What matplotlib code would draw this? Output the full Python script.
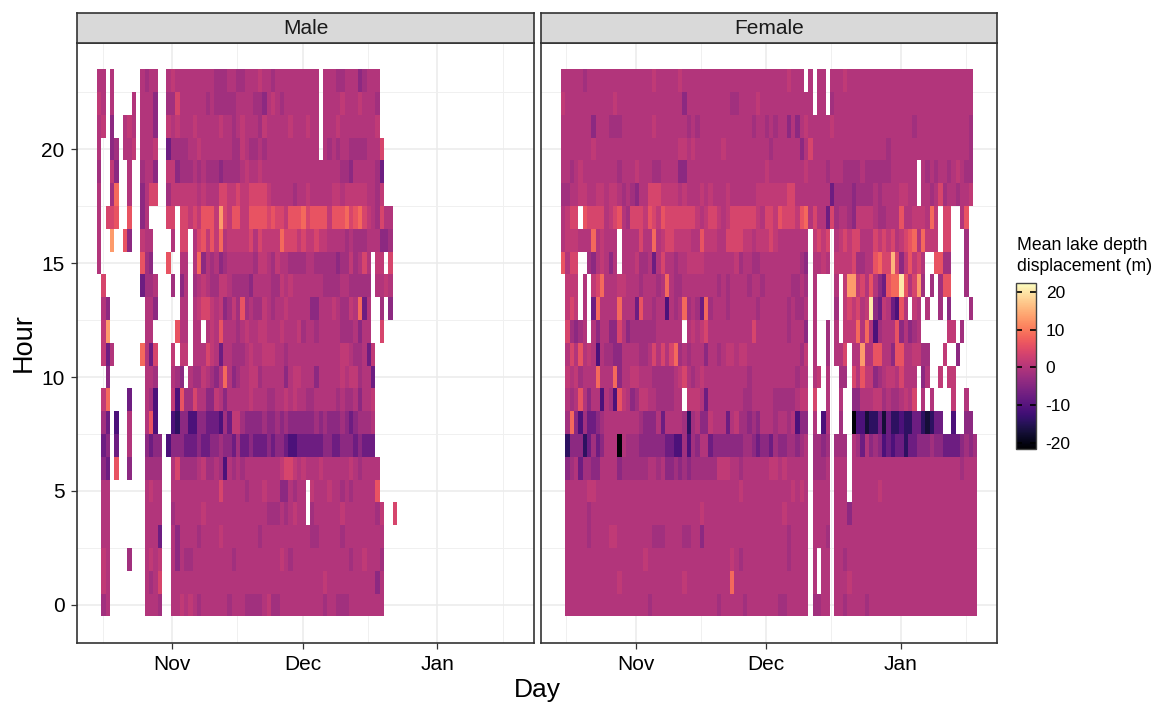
"""Heat map of mean lake depth displacement by hour and day, male and female panels."""

from __future__ import annotations

import datetime as dt

import matplotlib

matplotlib.use("Agg")
import matplotlib.dates as mdates
import matplotlib.pyplot as plt
import numpy as np
from matplotlib.cm import ScalarMappable
from matplotlib.colors import Normalize

plt.rcParams["font.family"] = ["Liberation Sans", "DejaVu Sans"]
plt.rcParams["axes.unicode_minus"] = False

FIG_W, FIG_H = 1163, 704
first_day = dt.date(2013, 10, 15)
month_ticks = [dt.date(2013, 11, 1), dt.date(2013, 12, 1), dt.date(2014, 1, 1)]
month_labels = ["Nov", "Dec", "Jan"]
minor_ticks = [dt.date(2013, 10, 16), dt.date(2013, 11, 16), dt.date(2013, 12, 16), dt.date(2014, 1, 16)]
hour_ticks = [0, 5, 10, 15, 20]
bar_ticks = [-20, -10, 0, 10, 20]
panel_names = ["Male", "Female"]

# displacement (m) for each letter, "." is no data
levels = {
    "a": -21, "b": -17, "c": -14, "d": -11, "e": -7.5, "f": -4, "g": -1.7, "h": -0.1,
    "i": 1.5, "j": 3.8, "k": 6, "l": 8.5, "m": 13, "n": 15.5, "o": 20,
}

# one string per hour, 23 down to 0, one letter per day from first_day
male_rows = [
    "hh.h...... hghh..hihh hhhhhhhggg hhgghhhihh ghhhhhhhhh h.hhhgghhh fghhh....",
    "ih.h....h. hhhf..ggjh hhhhhghggg gghhhhggfh ihghhhhhhh h.hhhhihhh ihhhg....",
    "hi.f..hih. hhhf..ihih hhihhhhhih hghihhhgih hhhhihhhih h.hhhihhhh hhhhi....",
    "h..fg.hhi. hhhi..eggg ghhihhhhhh hggihgghgh hhhhhhhhhh h.hghghhgg gghhhj...",
    "g..if..h.. ghhf..iifg gghghgggfg ggghihhihh hhhhhhhhhh hhhhhhggfh hhhhge...",
    "h..gl..h.. fhjj..giii iiihihhhjj iijiijjjji hhhhhghhih hhhhiihiii iihhgi...",
    "h.jjk..k.. fh....jj.j jijikkkimj ikkiikkkkj kjjikkkljk kkkikkkljk ljihgjhh.",
    "h..m..kf.. ihh....h.j j.hjkikilh iiiiijhjii iiljjjijii jiihhhhghg gghhhffg.",
    "h......... kgf...k..h h.hlfhghfg hhhhhhgiih gihhgggghh gggggfggig hjh.ii.j.",
    ".j........ eggh...g.f h.ghihggii hggggfhhhh ggihihhhhh hhgggghhgg ggg.hhih.",
    ".hf....... .hhf.....h h.hijjihif gigkghggih ghhihhhhhf fhhhihggih leh..g.f.",
    ".im....... .hh.....kh h.hh.hihkh hhghihhiih hhihhhighh ghhhhhgggh fhh..j...",
    ".ieh...... lhej...i.i i.hhhjiheh hggghihhii ihhghhhhhh hhhhhhiihg ghei.....",
    "..f....... .hhg...hgf .hggihgfhl hfghhiighh hhhfhiihhh fhhhhhihii ghhe.....",
    ".il....e.. .hgd...idk ggjhhffihf hhhhhihhhg ghhihihhgg hhhhhghggh fhhi.....",
    ".ge.d..h.. .hkd...dcf fddffeeedg eiigffffgf fgfgffffff gfgfffgfef gggh.....",
    ".ef.e..h.. .feff.dfff eeefeeffgf fegeefeeef effeddeeee eeffeefffe feee.....",
    ".fe.k..f.. .gggg..hjg ggghigghgd hghghhhhhh hhijjihihh hihhhhhhih ghhhh....",
    ".hh....... .hihh..hhh hhhhhhhhjh hhhhghhhih hhffhghh.i hhhihhghgh hhhhk....",
    ".hh....... .hhhh..ghh hhhhihhhhh hhhhhhhhhg gghghihh.g hhhhhhihhh hhhhgi..j",
    ".hh....... .hhhe..hfh hhhghhhhih hhhhhhhghh hhhhhhhhhg ghhhhhghhh hhhhhh...",
    ".ih....g.. .hihi..hfh gghhhhhhhh hghhhhhhhh hhihghhhhh hhhhhhhhgh hihhhg...",
    ".ih....... .hghj..hhh hhhhhhhhhh hhhhhhhhhh hhhhhhhhhh hhihhhhhhh hhhhfh...",
    ".gh....... .hhhg..hhi hihghhhhhh ghhhgggghi gghhhhhhhh hhghhggghh hhhhhh...",
]

female_rows = [
    "hhhhhghhhh hhhhhhhhhh hihhhhhihh hhhhhhhhhh hhhhhhhhhh hhihhh.h.h h.hhhihhhh hhhhhhhhhh hhhhhhhhhh hhhhh.",
    "ihhhhhhhhh hhihhhhhhh hhhhhhhhfh hhhhhhhhhg ghhhhihhhh hhhhhhhh.h h.ghhhhhhh hhhhhhhhhh hhhhhhhhhh hhhhh.",
    "hhhhhhhfhh hggghhhhhh hihhhhhhhg hghhhhhhhh hhhhghhghg hhfhfhihhh hhihhhhhhh hhhhhhhhhh hghhhhhhhh hhhhg.",
    "hhhhhhhihh hhhhhhhhhh hhhhhhhiih ihhhhhhihh hhhhhhhhgh hhhhhfhjhh hhhhhhhhhh hhhhhghhhh hhhhhhhhhh hhhhg.",
    "hhghihhhhh hhhghhhihh hgghhhhffh hhhhhhhhhh hhhhhhhihh hhhhhhihhh hghhhggggh gggggghhhh hh.hghghhg hihgg.",
    "gghhiihhii hiihghgfhh jjjiiiihih hhihihhhih hhhhhiiiii iijjhhhhhh hheggggfgg gghghhhhii hh.hhghjgh hghhi.",
    "hijj.kjjjj hijkhgjjji kjikjjjjjj jihijjihij jjjjjihjji kjjjiklhjh hejghhgfii iihgghhhkh hiiihli.jj ..hk..",
    "hiiihhhlhi hhh.hhhhjh hlhijjiiii hhkiiihhjj jjiihiiiji hhhhhhh.ij ij.hijijjh hhjijijhij klhliii.jj ...g..",
    "khjj..gfhi hfh.hhhigg hehjhhghhi iiihhhhhhh ighhgghhhh hhhhhgf.hh ih.iiiijgg hhkljjnjfi kijh..kkgg ...g..",
    ".iii.h.ijl hhhiihhhgh hhghlhgghh hhhhhhghgh hhhghhghhh hhhgghg.h. ...h.immij hkhfekllok hjmg.g.gkk ...g..",
    ".iji.h.elh hhhlhhhekh hghhdhghlg hgelghhhgh hhhhhghhhh hhghggh.h. ...g.ijijh iofeihedkh .ih.h..g.f ....g.",
    ".jgfgh.hfh hffjhfgggg gghhhhhh.h ihijhhhhhh hhhhjhhhhh hhghhhf.h. .g.h.iiilh lhdghhhkfh fgh......i i.g...",
    ".hjhkhihdh ggffhhhhgg hjhjhjlghg hhhfhhghii hiihhhhhhh hhhhhgi.h. .g.hhj.hhm hhkkhhfkkh hiigg...i. .f....",
    ".ihighhhlh hhlfhhiihh hggggghijh ghihhhhhhh hhhghhhhhh hhhhghh.hi .h..gg.jhk iifghiihjh hh.fh..i.i i.....",
    ".hghkhfhhd hgdkihfgii hhgggghh.i iihehhhhhh hhgghhhhhg gggghii.j. .h..h..ffh hhiighgghi hj.h.h.... i..h..",
    ".glfdgeefg hhhhhhhhgf ffhehhhhgc ghffihhheh iggfgfhhhg hhghdff.h. dh..g..add bccebeccdc ceecbcee.. d..ff.",
    ".cfffcegef hhhahgggff ffffeeddgd gfhhefffff ffggfeffeg ffggfgh.gg fg.ggg.hge hfgfdedeec eefffgffee eefgfg",
    ".fgheggffh hhhfgggggg hhghffgfgf ggggggiiih hghhhhhhii hihhhhh.gg gh.hhh.hhh hhhhhhhhhh hhhhhhhhhh hhghhh",
    ".hhhhhiihh hhhhhhhhhh hhhhhhhhhh hhhhhhhhhh hihhhhhhhh hhhihih.hh hh.hhh.hhh hhhihhhhhh hhhhhhhhhh hhhhhh",
    ".hhhhhghhh hhhhhhhhhh hhhhhhhhhh hhihhhhhhh hhhhhhhhhh hihhhhh.hh hh.hhhfhhh hhhhhhhhhh hhhhhhhhhh hhhhhh",
    ".hhhhhghhh hiihhhhhhh hggghhhhgg hhfhhhhhhh hhhhhhhhhh hhghhhh.hh hg.hhhhhhh hhhhhhhhhh hhhhhhhhhh hhhhhh",
    ".hhhhhhhhh hhhhhhhhhi hhhhhhhhhh hhhhhhhhhi hghhhhhhhh hhghhhh.h. hh.hhghhhh hhhhhhhhhh hhhhhhhhhh hhhhhh",
    ".hhhhhhhhh hhhihhhhhh hhhhhhhhih hhhhhhhhhl hhhhhhhhhh hhhhhhh.h. hh.hhhihhh hhhhhhhhhh hhhhhhhhhh hhhhhh",
    ".hhhhhhhhh hhhhhhhhhh ghhhhhhhhh hhhhhhghhh hhghhhhhhh gghhhhh.gg hh.hhghhhh ghhhhhhhhh hhhhhhhhhh hhhhhh",
]


def decode(rows: list[str], n_days: int) -> np.ndarray:
    grid = np.full((len(rows), n_days), np.nan)
    for r, row in enumerate(rows):
        for c, ch in enumerate(row.replace(" ", "")[:n_days]):
            if ch != ".":
                grid[r, c] = levels[ch]
    return grid[::-1]  # hour 0 first


def px_axes(fig, left, top, right, bottom):
    return fig.add_axes([left / FIG_W, 1 - bottom / FIG_H, (right - left) / FIG_W, (bottom - top) / FIG_H])


def draw_panel(fig, box, rows, name, norm, show_y):
    left, right = box
    grid = decode(rows, 96)
    edges = mdates.date2num(first_day) - 0.3 + np.arange(grid.shape[1] + 1)
    hour_edges = np.arange(grid.shape[0] + 1) - 0.5

    ax = px_axes(fig, left, 43, right, 643)
    ax.pcolormesh(edges, hour_edges, np.ma.masked_invalid(grid), cmap="magma", norm=norm, antialiased=False, zorder=2)
    nov = mdates.date2num(month_ticks[0])
    ax.set_xlim(nov - 21.87, nov + 83.2)
    ax.set_ylim(-1.667, 24.65)

    ax.set_xticks(mdates.date2num(month_ticks), month_labels)
    ax.set_xticks(mdates.date2num(minor_ticks), minor=True)
    ax.set_yticks(hour_ticks)
    ax.set_yticks([h + 2.5 for h in hour_ticks], minor=True)
    ax.grid(True, which="major", color="#ebebeb", linewidth=1.1)
    ax.grid(True, which="minor", color="#f0f0f0", linewidth=0.7)
    ax.set_axisbelow(True)
    ax.tick_params(which="minor", length=0)
    ax.tick_params(which="major", length=4, width=0.9, color="#333333", labelsize=15, pad=5)
    if not show_y:
        ax.tick_params(axis="y", which="major", left=False, labelleft=False)
    for sp in ax.spines.values():
        sp.set_color("#333333")
        sp.set_linewidth(1.2)

    strip = px_axes(fig, left, 13, right, 43)
    strip.set_facecolor("#d9d9d9")
    strip.set_xticks([])
    strip.set_yticks([])
    for sp in strip.spines.values():
        sp.set_color("#333333")
        sp.set_linewidth(1.2)
    strip.text(0.5, 0.47, name, ha="center", va="center", fontsize=15, color="#1a1a1a", transform=strip.transAxes)


def main() -> None:
    fig = plt.figure(figsize=(FIG_W / 100, FIG_H / 100), dpi=100)
    norm = Normalize(vmin=-21.5, vmax=22.2)

    draw_panel(fig, (77, 534), male_rows, panel_names[0], norm, True)
    draw_panel(fig, (541, 997), female_rows, panel_names[1], norm, False)

    fig.text(24 / FIG_W, 1 - 343 / FIG_H, "Hour", rotation=90, ha="center", va="center", fontsize=19.5)
    fig.text(537 / FIG_W, 1 - 690 / FIG_H, "Day", ha="center", va="center", fontsize=19)

    cax = px_axes(fig, 1016, 283.3, 1036, 449)
    cb = fig.colorbar(ScalarMappable(norm=norm, cmap="magma"), cax=cax, ticks=bar_ticks)
    cb.outline.set_edgecolor("#444444")
    cb.outline.set_linewidth(1.0)
    cax.minorticks_off()
    cax.tick_params(left=True, right=True, direction="in", length=4, width=1.2, color="black", labelsize=12.5, pad=7)
    fig.text(1017 / FIG_W, 1 - 256 / FIG_H, "Mean lake depth\ndisplacement (m)", ha="left", va="center",
             fontsize=12.7, linespacing=1.25)

    fig.savefig("out.png", dpi=100, facecolor="white")
    plt.close(fig)


if __name__ == "__main__":
    main()
